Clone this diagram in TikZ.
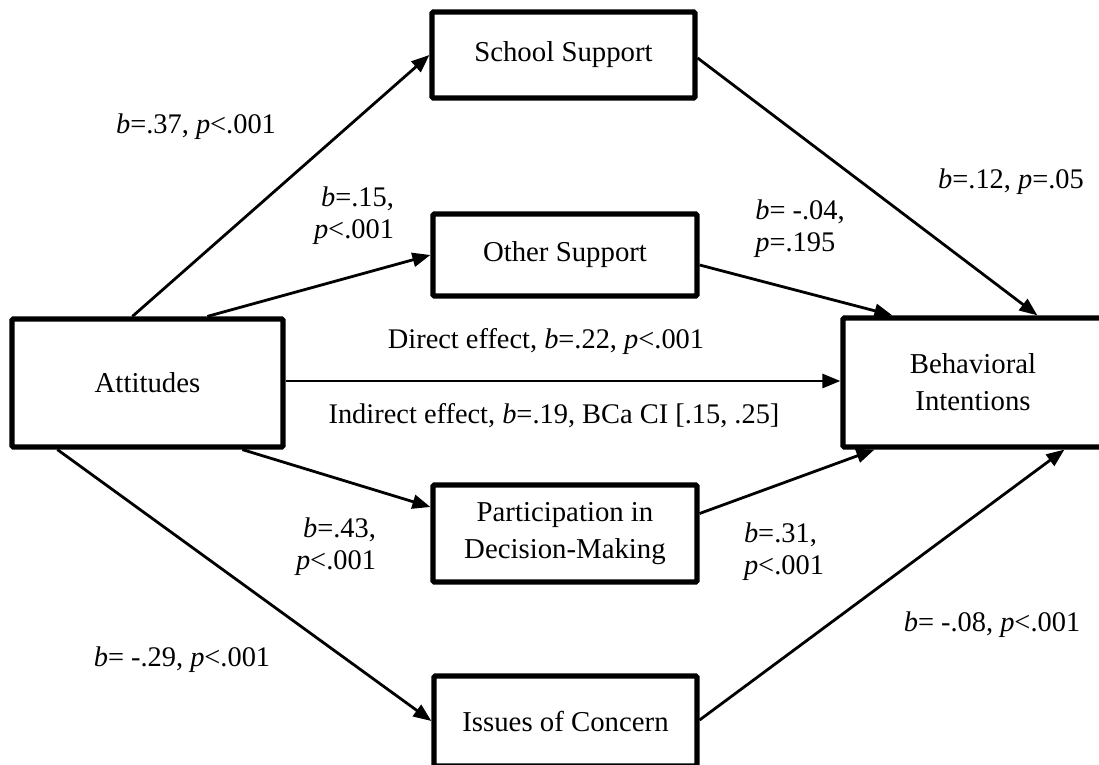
\documentclass[tikz,border=0pt]{standalone}
\usepackage{fontspec}
\setmainfont{Liberation Serif}
\usetikzlibrary{arrows.meta}
\begin{document}
\begin{tikzpicture}[x=0.5pt,y=-0.5pt,
  every node/.style={font=\fontsize{14.4}{18.5}\selectfont},
  varbox/.style={draw,line width=2.6pt,rounded corners=0.6pt,align=center,inner sep=0pt},
  lab/.style={inner sep=0pt,font=\fontsize{14.2}{16}\selectfont},
  path/.style={line width=1.4pt,-{Triangle[length=9pt,width=7pt]}}]
\useasboundingbox (0,0) rectangle (1099,765);
\fill[white] (0,0) rectangle (1099,765);
% boxes
\node[varbox,minimum width=131.5pt,minimum height=43pt] (school) at (563.5,55) {School Support};
\node[varbox,minimum width=132pt,minimum height=41pt] (other) at (565,255) {Other Support};
\node[varbox,minimum width=135.5pt,minimum height=64pt] (att) at (147.5,383) {Attitudes};
\node[varbox,minimum width=130pt,minimum height=64.5pt] (beh) at (973,382.5) {Behavioral\\Intentions};
\node[varbox,minimum width=132pt,minimum height=48.5pt] (part) at (565,533.5) {Participation in\\Decision-Making};
\node[varbox,minimum width=131.5pt,minimum height=45pt] (iss) at (565.5,721) {Issues of Concern};
% connectors
\draw[path] ([shift={(123,0)}]att.north west) -- (school.west);
\draw[path] ([shift={(198,0)}]att.north west) -- (other.west);
\draw[path] ([shift={(0,-2)}]att.east) -- ([shift={(0,-2)}]att.east -| beh.west);
\draw[path] ([shift={(233,0)}]att.south west) -- ([shift={(0,-26.5)}]part.west);
\draw[path] ([shift={(48,0)}]att.south west) -- (iss.west);
\draw[path] ([shift={(0,3)}]school.east) -- ([shift={(197,0)}]beh.north west);
\draw[path] ([shift={(0,10)}]other.east) -- ([shift={(52,0)}]beh.north west);
\draw[path] ([shift={(0,-20)}]part.east) -- ([shift={(34,0)}]beh.south west);
\draw[path] ([shift={(0,-1)}]iss.east) -- ([shift={(224,0)}]beh.south west);
% labels
\node[lab] (l1) at (196,127) {\textit{b}=.37, \textit{p}<.001};
\node[lab,align=right] (l2) at (354,216) {\textit{b}=.15,\\\textit{p}<.001};
\node[lab,align=left] (l3) at (800,229) {\textit{b}= -.04,\\\textit{p}=.195};
\node[lab] (l4) at (1011,182) {\textit{b}=.12, \textit{p}=.05};
\node[lab] (l5) at (546,342) {Direct effect, \textit{b}=.22, \textit{p}<.001};
\node[lab] (l6) at (554,416) {Indirect effect, \textit{b}=.19, BCa CI [.15, .25]};
\node[lab,align=right] (l7) at (336,547) {\textit{b}=.43,\\\textit{p}<.001};
\node[lab,align=left] (l8) at (784,552) {\textit{b}=.31,\\\textit{p}<.001};
\node[lab] (l9) at (992,625) {\textit{b}= -.08, \textit{p}<.001};
\node[lab] (l10) at (182,660) {\textit{b}= -.29, \textit{p}<.001};
\end{tikzpicture}
\end{document}
